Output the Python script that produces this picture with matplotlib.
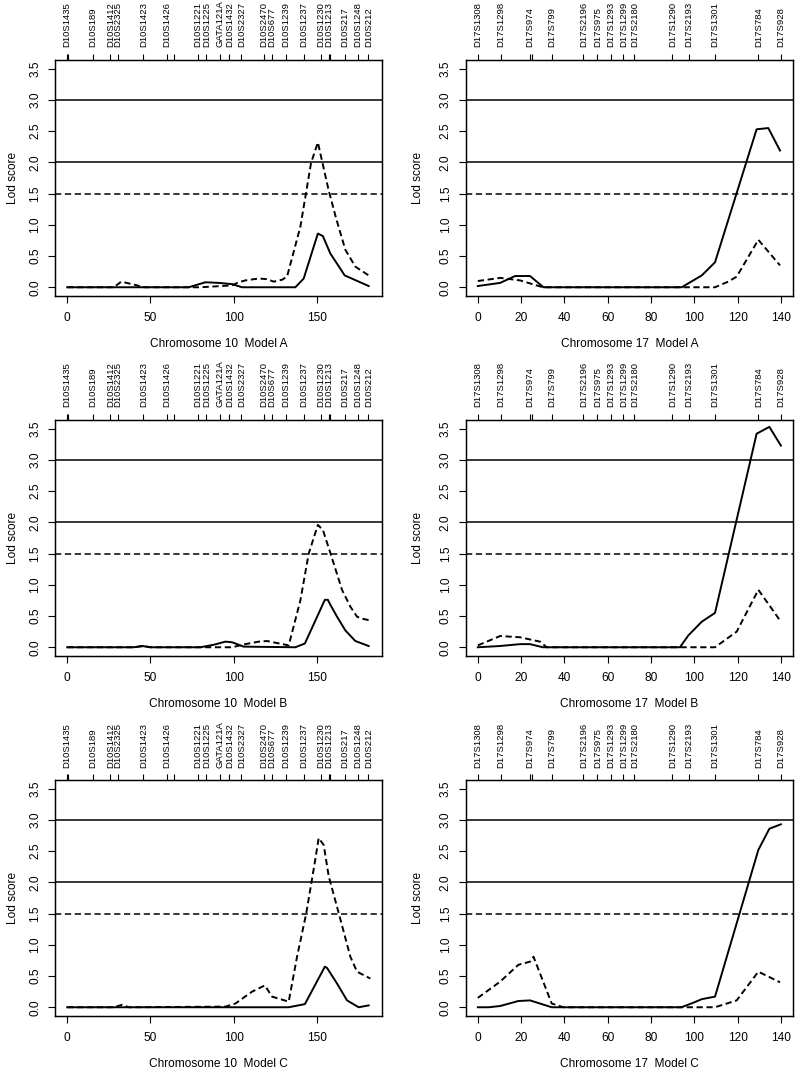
# LOD score scans, chromosome 10 and 17, models A/B/C
import numpy as np
import matplotlib.pyplot as plt

plt.rcParams['font.family'] = ['Liberation Sans', 'DejaVu Sans']
plt.rcParams['lines.scale_dashes'] = False

# marker maps (cM) and names, "" = tick with no label
chr10_marker_pos = [0, 0.8, 15.3, 25.9, 30.5, 45.7, 59.9, 64.3, 78.4, 83.6, 91.8, 97.4, 104.6,
                    118.3, 122.9, 131.5, 141.9, 152.1, 156.9, 157.6, 166.6, 174.6, 180.8]
chr10_marker_lab = ["D10S1435", "", "D10S189", "D10S1412", "D10S2325", "D10S1423", "D10S1426", "",
                    "D10S1221", "D10S1225", "GATA121A", "D10S1432", "D10S2327", "D10S2470",
                    "D10S677", "D10S1239", "D10S1237", "D10S1230", "D10S1213", "", "D10S217",
                    "D10S1248", "D10S212"]
chr17_marker_pos = [0, 10.8, 24.1, 24.9, 34.1, 48.7, 55.2, 61.4, 67.2, 72.3, 89.8, 97.6,
                    109.5, 129.5, 139.8]
chr17_marker_lab = ["D17S1308", "D17S1298", "D17S974", "", "D17S799", "D17S2196", "D17S975",
                    "D17S1293", "D17S1299", "D17S2180", "D17S1290", "D17S2193", "D17S1301",
                    "D17S784", "D17S928"]

# chromosome 10, model A
c10A_solid_x = [0, 73, 83, 91, 99, 105, 137, 142, 150.5, 153.5, 158, 166.6, 181]
c10A_solid_y = [0, 0, 0.08, 0.07, 0.05, 0, 0, 0.14, 0.86, 0.82, 0.54, 0.19, 0.02]
c10A_dash_x = [0, 28, 32.5, 42, 45, 80, 99, 103, 107, 115, 120, 124, 129, 132, 140, 146.4,
               150.5, 157, 161.5, 167, 173, 181]
c10A_dash_y = [0, 0, 0.09, 0.03, 0, 0, 0.03, 0.08, 0.11, 0.14, 0.13, 0.09, 0.12, 0.17, 0.97,
               1.99, 2.32, 1.55, 1.1, 0.6, 0.33, 0.19]
# chromosome 10, model B
c10B_solid_x = [0, 40, 45, 50, 80, 88, 95, 99, 106, 137, 142.7, 154.7, 156.5, 158, 162, 167,
                173, 181]
c10B_solid_y = [0, 0, 0.02, 0, 0, 0.04, 0.09, 0.08, 0.01, 0, 0.06, 0.76, 0.76, 0.68, 0.49,
                0.27, 0.10, 0.02]
c10B_dash_x = [0, 40, 46, 50, 80, 99, 107, 115, 120, 133, 140, 145, 150.5, 153.5, 158, 165,
               170, 174, 176.6, 182]
c10B_dash_y = [0, 0, 0.02, 0, 0, 0, 0.05, 0.09, 0.10, 0.03, 0.75, 1.5, 1.96, 1.88, 1.51, 0.92,
               0.65, 0.49, 0.46, 0.43]
# chromosome 10, model C
c10C_solid_x = [0, 133, 142.7, 154.7, 156, 162, 168, 175, 181]
c10C_solid_y = [0, 0, 0.05, 0.65, 0.63, 0.38, 0.11, 0.0, 0.03]
c10C_dash_x = [0, 28, 33, 37, 95, 101, 111, 118.7, 123, 133, 138, 143.5, 148.6, 151, 154, 157,
               163, 170, 174, 182]
c10C_dash_y = [0, 0, 0.04, 0, 0.01, 0.06, 0.25, 0.35, 0.17, 0.09, 0.81, 1.5, 2.31, 2.71, 2.6,
               2.1, 1.51, 0.81, 0.57, 0.46]
# chromosome 17, model A
c17A_solid_x = [0, 10.3, 17.2, 24.1, 30.3, 94.1, 103.4, 109.5, 128.7, 134.1, 139.5]
c17A_solid_y = [0.02, 0.07, 0.18, 0.18, 0, 0, 0.19, 0.40, 2.53, 2.55, 2.19]
c17A_dash_x = [0, 10.3, 19.5, 30, 109.5, 115.6, 119.5, 129.5, 139.5]
c17A_dash_y = [0.10, 0.15, 0.11, 0, 0, 0.09, 0.17, 0.76, 0.35]
# chromosome 17, model B
c17B_solid_x = [0, 10.3, 19.5, 24.1, 30, 93.3, 97.2, 103.4, 109.5, 128.7, 134.6, 139.9]
c17B_solid_y = [0, 0.02, 0.05, 0.05, 0, 0, 0.19, 0.41, 0.55, 3.42, 3.53, 3.23]
c17B_dash_x = [0, 10.3, 19.5, 28.7, 31.8, 109.5, 119.5, 129.5, 139.5]
c17B_dash_y = [0.03, 0.18, 0.16, 0.09, 0, 0, 0.25, 0.92, 0.43]
# chromosome 17, model C
c17C_solid_x = [0, 5, 10.3, 18.7, 24.1, 34.1, 94, 100, 103.4, 109.5, 129.5, 134.6, 139.9]
c17C_solid_y = [0, 0, 0.02, 0.10, 0.11, 0, 0, 0.08, 0.13, 0.17, 2.52, 2.86, 2.93]
c17C_dash_x = [0, 10.3, 18.7, 24.1, 25.7, 34.1, 39.5, 109.5, 119.5, 129.5, 139.5]
c17C_dash_y = [0.15, 0.41, 0.68, 0.73, 0.81, 0.06, 0, 0, 0.11, 0.57, 0.40]

models = ["A", "B", "C"]
chr10_series = [(c10A_solid_x, c10A_solid_y, c10A_dash_x, c10A_dash_y),
                (c10B_solid_x, c10B_solid_y, c10B_dash_x, c10B_dash_y),
                (c10C_solid_x, c10C_solid_y, c10C_dash_x, c10C_dash_y)]
chr17_series = [(c17A_solid_x, c17A_solid_y, c17A_dash_x, c17A_dash_y),
                (c17B_solid_x, c17B_solid_y, c17B_dash_x, c17B_dash_y),
                (c17C_solid_x, c17C_solid_y, c17C_dash_x, c17C_dash_y)]

W, H = 798, 1075
fig = plt.figure(figsize=(W/100, H/100), dpi=100)

lw = 1.1
dash = (0, (4.5, 2.6))

cols = [
    dict(name="10", left=55, right=382, xlim=(-7.3, 189), xticks=[0, 50, 100, 150],
         mpos=chr10_marker_pos, mlab=chr10_marker_lab, series=chr10_series, ylab_x=-0.128),
    dict(name="17", left=465.7, right=793, xlim=(-5.6, 145.5), xticks=list(range(0, 141, 20)),
         mpos=chr17_marker_pos, mlab=chr17_marker_lab, series=chr17_series, ylab_x=-0.146),
]
row_tops = [60, 420, 780]
box_h = 236

for c in cols:
    for r, top in enumerate(row_tops):
        ax = fig.add_axes([c["left"]/W, 1 - (top + box_h)/H, (c["right"] - c["left"])/W, box_h/H])
        sx, sy, dx, dy = c["series"][r]
        ax.axhline(3.0, color="black", lw=lw)
        ax.axhline(2.0, color="black", lw=lw)
        ax.axhline(1.5, color="black", lw=lw, linestyle=dash)
        ax.plot(sx, sy, color="black", lw=1.4)
        ax.plot(dx, dy, color="black", lw=1.4, linestyle=dash)

        ax.set_xlim(c["xlim"])
        ax.set_ylim(-0.14, 3.64)
        ax.set_xticks(c["xticks"])
        ax.set_xticklabels([str(t) for t in c["xticks"]])
        ax.set_yticks(np.arange(0, 3.51, 0.5))
        ax.set_yticklabels(["%.1f" % v for v in np.arange(0, 3.51, 0.5)], rotation=90, va="center")
        ax.tick_params(direction="out", length=5, width=0.8, labelsize=8.6, pad=5)
        ax.tick_params(axis="x", pad=6.5)
        for s in ax.spines.values():
            s.set_linewidth(0.9)

        ax.text(0.5, -0.203, "Chromosome %s  Model %s" % (c["name"], models[r]),
                transform=ax.transAxes, ha="center", va="center", fontsize=8.6)
        ax.text(c["ylab_x"], 0.5, "Lod score", transform=ax.transAxes, rotation=90,
                ha="center", va="center", fontsize=8.6)

        # marker ticks on top
        ax2 = ax.twiny()
        ax2.set_xlim(c["xlim"])
        ax2.set_xticks(c["mpos"])
        ax2.set_xticklabels(c["mlab"], rotation=90, fontsize=6.8)
        ax2.tick_params(axis="x", direction="out", length=4.5, width=0.8, pad=4.5)
        for s in ax2.spines.values():
            s.set_linewidth(0.9)

fig.savefig("out.png", dpi=100)
